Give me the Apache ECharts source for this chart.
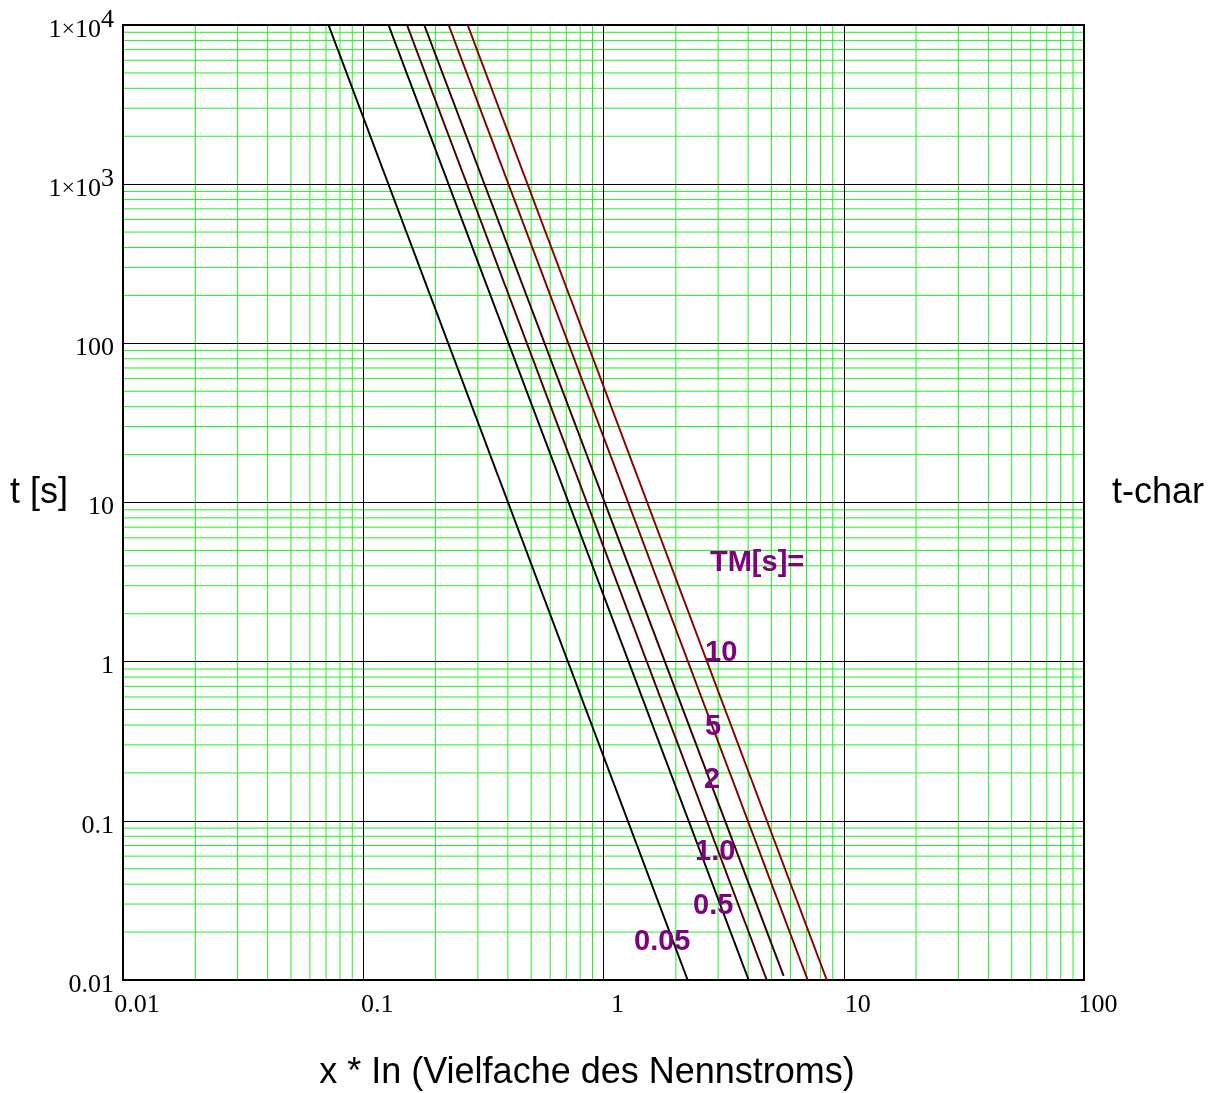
<!DOCTYPE html>
<html>
<head>
<meta charset="utf-8">
<title>t-char</title>
<script src="https://cdn.jsdelivr.net/npm/echarts@6/dist/echarts.min.js"></script>
<style>
  html, body { margin: 0; padding: 0; background: #fff; }
  #chart { width: 1223px; height: 1093px; }
</style>
</head>
<body>
<div id="chart"></div>
<script>
// TM [s] der Kennlinien
const tmLabels = ['0.05', '0.5', '1.0', '2', '5', '10'];
// Anfang jeder Kennlinie (oberer Rand)
const xStart = [0.0717, 0.1274, 0.1521, 0.1795, 0.2267, 0.2720];
const tStart = [10000, 10000, 10000, 10000, 10000, 10000];
// Ende jeder Kennlinie (unterer Rand)
const xEnd = [2.24, 4.02, 4.78, 5.62, 7.08, 8.50];
const tEnd = [0.01, 0.01, 0.01, 0.0106, 0.01, 0.01];

// Achsen
const xTicks = [0.01, 0.1, 1, 10, 100];
const xTickLabels = ['0.01', '0.1', '1', '10', '100'];
const yTicks = [0.01, 0.1, 1, 10, 100, 1000, 10000];
const yTickLabels = ['0.01', '0.1', '1', '10', '100', '1x10^3', '1x10^4'];

const lineColors = ['#000000', '#000000', '#4a0000', '#350000', '#800000', '#8b0000'];
const serif = '"Liberation Serif", "Times New Roman", serif';
const sans = '"Liberation Sans", Arial, sans-serif';

// Nebenlinien 2..9 je Dekade
function minorValues(ticks) {
  const out = [];
  for (let i = 0; i < ticks.length - 1; i++) {
    for (let k = 2; k <= 9; k++) out.push(ticks[i] * k);
  }
  return out;
}

function tickIndex(ticks, v) {
  const e = Math.round(Math.log10(v));
  return ticks.findIndex(t => Math.round(Math.log10(t)) === e);
}

// gruene Nebenlinien als einfache Linienserien, unter den schwarzen Hauptlinien
function gridLines(values, vertical, color) {
  const xMin = xTicks[0], xMax = xTicks[xTicks.length - 1];
  const yMin = yTicks[0], yMax = yTicks[yTicks.length - 1];
  return values.map(v => ({
    type: 'line',
    z: -1,
    silent: true,
    showSymbol: false,
    emphasis: { disabled: true },
    data: vertical ? [[v, yMin], [v, yMax]] : [[xMin, v], [xMax, v]],
    lineStyle: { color: color, width: 1 }
  }));
}

const curveSeries = tmLabels.map((tm, i) => ({
  name: 'TM ' + tm,
  type: 'line',
  z: 5,
  showSymbol: false,
  silent: true,
  emphasis: { disabled: true },
  data: [[xStart[i], tStart[i]], [xEnd[i], tEnd[i]]],
  lineStyle: { color: lineColors[i], width: 2 }
}));

// Beschriftung TM[s]= ... (Pixelposition, links / Mitte)
const tmText = [
  { text: 'TM[s]=', x: 710, y: 563 },
  { text: tmLabels[5], x: 705, y: 653 },
  { text: tmLabels[4], x: 705, y: 727 },
  { text: tmLabels[3], x: 704, y: 780 },
  { text: tmLabels[2], x: 695, y: 852 },
  { text: tmLabels[1], x: 693, y: 906 },
  { text: tmLabels[0], x: 634, y: 942 }
];

const chart = echarts.init(document.getElementById('chart'));

const axisParts = {
  axisLine: { show: false },
  axisTick: { show: false },
  minorTick: { show: false },
  splitLine: { show: true, lineStyle: { color: '#000000', width: 1 } },
  minorSplitLine: { show: false }
};

const option = {
  animation: false,
  backgroundColor: '#ffffff',
  grid: {
    left: 123, right: 139, top: 25, bottom: 113,
    show: true,
    borderColor: '#000',
    borderWidth: 2,
    backgroundColor: 'transparent'
  },
  xAxis: Object.assign({
    type: 'log',
    logBase: 10,
    min: xTicks[0],
    max: xTicks[xTicks.length - 1],
    splitNumber: 4,
    axisLabel: {
      showMinLabel: true,
      showMaxLabel: true,
      margin: 12,
      padding: [0, 0, 0, 28],
      fontFamily: serif,
      fontSize: 26,
      color: '#000',
      formatter: v => xTickLabels[tickIndex(xTicks, v)]
    }
  }, axisParts),
  yAxis: Object.assign({
    type: 'log',
    logBase: 10,
    min: yTicks[0],
    max: yTicks[yTicks.length - 1],
    splitNumber: 6,
    axisLabel: {
      showMinLabel: true,
      showMaxLabel: true,
      margin: 9,
      padding: [10, 0, 0, 0],
      color: '#000',
      formatter: function (v) {
        const s = yTickLabels[tickIndex(yTicks, v)];
        if (s.indexOf('^') < 0) return '{n|' + s + '}';
        const parts = s.split('^');
        return '{n|1}{m|×}{n|10}{s|' + parts[1] + '}';
      },
      rich: {
        n: { fontFamily: serif, fontSize: 26, lineHeight: 26, color: '#000' },
        m: { fontFamily: serif, fontSize: 24, lineHeight: 26, color: '#000' },
        s: { fontFamily: serif, fontSize: 26, lineHeight: 26, color: '#000', padding: [0, 0, 20, 0] }
      }
    }
  }, axisParts),
  graphic: [
    {
      type: 'text', x: 10, y: 493,
      style: { text: 't [s]', font: '36px ' + sans, fill: '#000', align: 'left', verticalAlign: 'middle', textAlign: 'left', textVerticalAlign: 'middle' }
    },
    {
      type: 'text', x: 1112, y: 493,
      style: { text: 't-char', font: '36px ' + sans, fill: '#000', align: 'left', verticalAlign: 'middle', textAlign: 'left', textVerticalAlign: 'middle' }
    },
    {
      type: 'text', x: 587, y: 1073,
      style: { text: 'x * In (Vielfache des Nennstroms)', font: '36px ' + sans, fill: '#000', align: 'center', verticalAlign: 'middle', textAlign: 'center', textVerticalAlign: 'middle' }
    }
  ].concat(tmText.map(t => ({
    type: 'text', x: t.x, y: t.y, z: 100,
    style: { text: t.text, font: 'bold 29px ' + sans, fill: '#800080', align: 'left', verticalAlign: 'middle', textAlign: 'left', textVerticalAlign: 'middle' }
  }))),
  series: [].concat(
    gridLines(minorValues(xTicks), true, '#22f022'),
    gridLines(minorValues(yTicks), false, '#22f022'),
    curveSeries
  )
};

chart.setOption(option);
</script>
</body>
</html>
